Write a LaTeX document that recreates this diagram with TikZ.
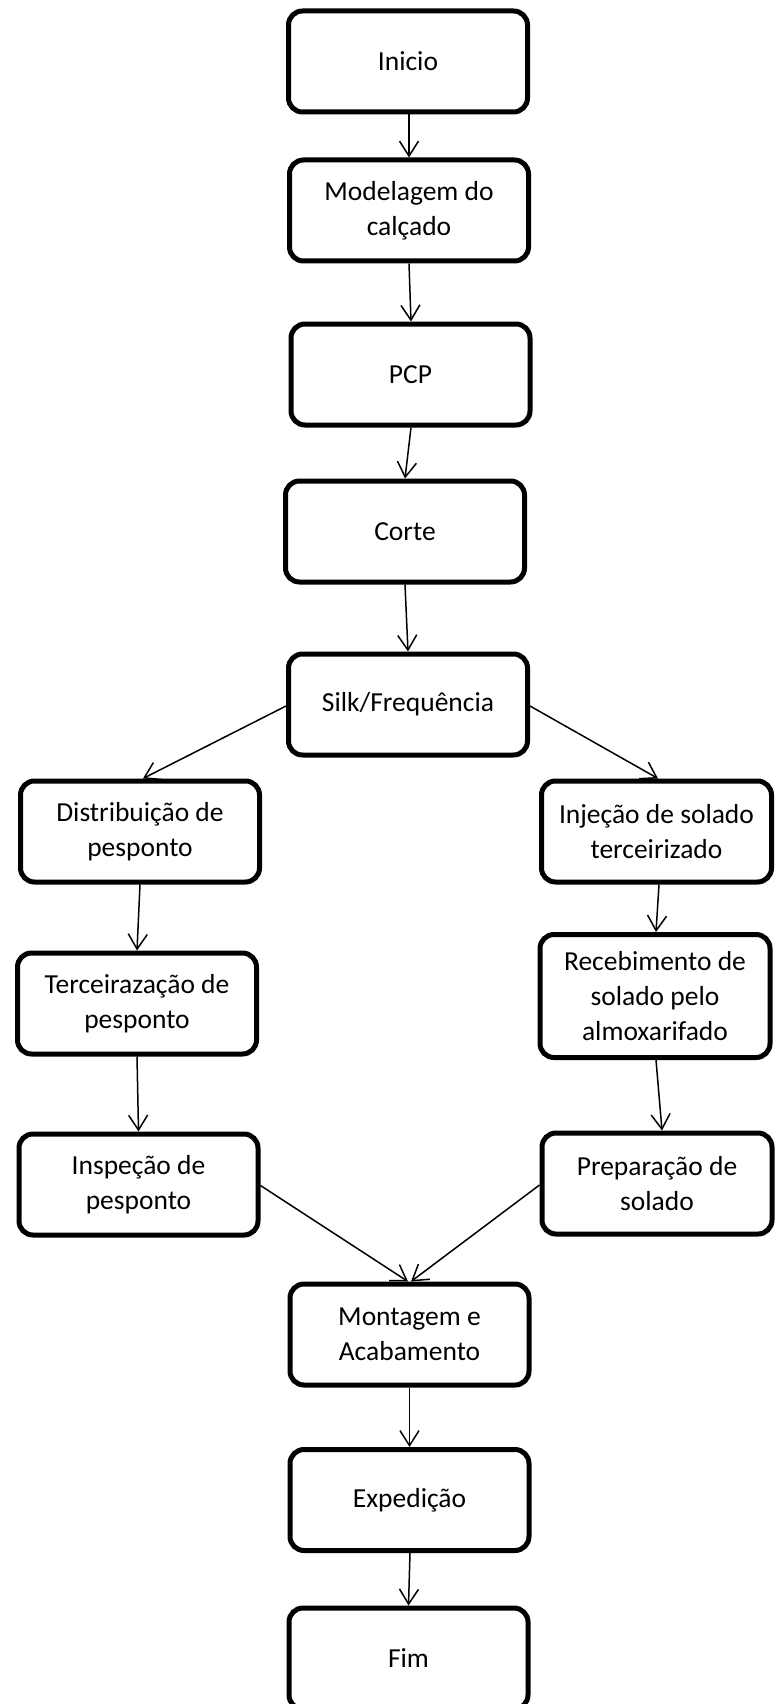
\documentclass[tikz,border=0pt]{standalone}
\usepackage{fontspec}
\setmainfont{Carlito}
\usetikzlibrary{arrows.meta}
\tikzset{
  box/.style={draw=black, line width=5pt, rounded corners=14pt, fill=white,
    minimum width=239pt, minimum height=101pt, align=center, inner sep=0pt,
    font=\fontsize{27.5}{35}\selectfont},
  rbox/.style={box, minimum width=230pt},
  flow/.style={line width=1.5pt, -{Straight Barb[length=15pt,width=19pt,line width=1.5pt]}}
}
\begin{document}
\begin{tikzpicture}[x=1pt,y=-1pt]
\useasboundingbox (0,0) rectangle (776,1704);
\node[box] (ini)  at (408,61.5)   {Inicio};
\node[box] (mod)  at (409,210.5) {Modelagem do\\calçado};
\node[box] (pcp)  at (410.5,374.5) {PCP};
\node[box] (cor)  at (405,531.5)  {Corte};
\node[box] (silk) at (408,704.5)  {Silk/Frequência};
\node[box] (dist) at (140,831.5)  {Distribuição de\\pesponto};
\node[rbox] (inj) at (656.5,831.5) {Injeção de solado\\terceirizado};
\node[box] (terc) at (137,1003.5) {Terceirazação de\\pesponto};
\node[rbox, minimum height=123pt] (rec) at (655,996) {Recebimento de\\solado pelo\\almoxarifado};
\node[box] (insp) at (138.5,1184.5) {Inspeção de\\pesponto};
\node[rbox] (prep) at (657,1183.5) {Preparação de\\solado};
\node[box] (mont) at (409.5,1334.5) {Montagem e\\Acabamento};
\node[box] (exp)  at (409.5,1500) {Expedição};
\node[box] (fim)  at (408.5,1658.5) {Fim};

\draw[flow] ([xshift=1pt]ini.south) -- (mod.north);
\draw[flow] (mod.south) -- ([xshift=0.5pt]pcp.north);
\draw[flow] ([xshift=0.5pt]pcp.south) -- (cor.north);
\draw[flow] (cor.south) -- (silk.north);
\draw[flow] ([yshift=-1.5pt]silk.west) -- ([xshift=3pt]dist.north);
\draw[flow] ([yshift=-1.5pt]silk.east) -- ([xshift=1.5pt]inj.north);
\draw[flow] (dist.south) -- (terc.north);
\draw[flow] ([xshift=2.5pt]inj.south) -- ([xshift=1pt]rec.north);
\draw[flow] (terc.south) -- (insp.north);
\draw[flow] ([xshift=1pt]rec.south) -- ([xshift=5pt]prep.north);
\draw[flow] ([yshift=-1pt]insp.east) -- ([xshift=-1.5pt]mont.north);
\draw[flow] ([yshift=-1.5pt]prep.west) -- ([xshift=1.5pt]mont.north);
\draw[flow] (mont.south) -- (exp.north);
\draw[flow] ([xshift=0.5pt]exp.south) -- (fim.north);
\end{tikzpicture}
\end{document}
